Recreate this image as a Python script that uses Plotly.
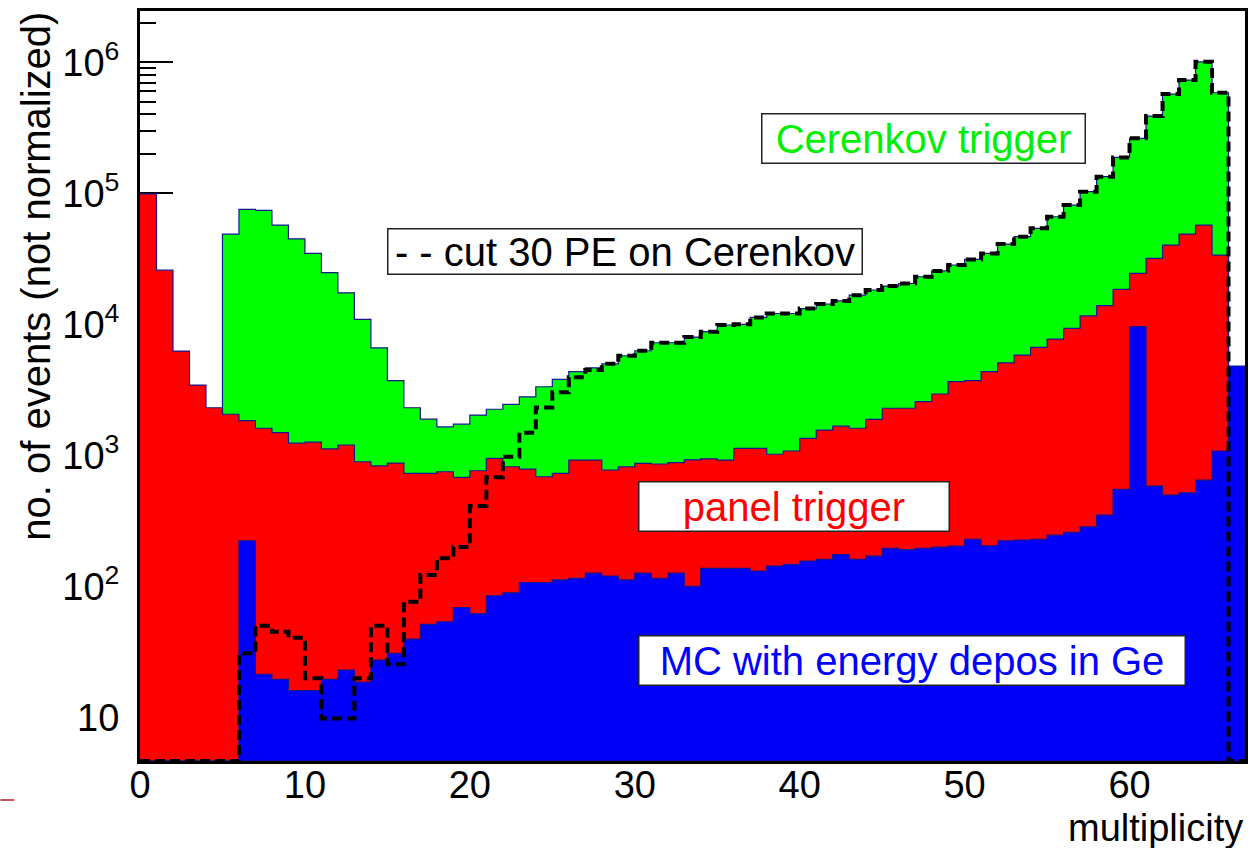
import numpy as np
import plotly.graph_objects as go

# ---- histogram contents, one entry per unit bin of multiplicity (0..66) ----
multiplicity_edges = list(range(0, 68))

cerenkov_trigger = [
    0, 0, 0, 0, 0,
    48900, 75500, 74200, 57300, 45000, 34800, 24800, 17400, 10900, 6620,
    3720, 2310, 1890, 1650, 1730, 2030, 2250, 2450, 2800, 3340,
    3800, 4350, 4660, 5000, 5760, 6290, 7240, 7240, 8000, 8790,
    9890, 10000, 11300, 12100, 12100, 13200, 14300, 15100, 16700, 18300,
    19600, 20500, 23100, 25600, 28400, 31300, 34800, 41000, 46700, 54100,
    66300, 81400, 103000, 134000, 188000, 263000, 389000, 573000, 733000, 1010000,
    586000, 0,
]

panel_trigger = [
    99000, 25900, 6250, 3440, 2310,
    2060, 1840, 1610, 1490, 1240, 1260, 1120, 1200, 894, 832,
    873, 729, 729, 750, 679, 763, 948, 819, 786, 687,
    729, 920, 920, 773, 819, 869, 859, 880, 925, 941,
    920, 1130, 1130, 1020, 1080, 1350, 1560, 1670, 1610, 1880,
    2290, 2290, 2570, 2940, 3650, 3720, 4350, 5090, 5830, 6670,
    7720, 9310, 11600, 13900, 18500, 24500, 31900, 40300, 48900, 57300,
    33800, 0,
]

mc_ge_deposit = [
    0, 0, 0, 0, 0,
    0, 223, 21.3, 19.5, 16.0, 16.0, 19.5, 23.0, 18.6, 27.4,
    30.8, 39.6, 51.3, 53.7, 69, 62, 84.8, 89.3, 107, 107,
    112, 115, 126, 120, 112, 126, 115, 126, 100, 137,
    137, 137, 131, 143, 147, 156, 161, 175, 161, 170,
    195, 191, 195, 199, 203, 229, 204, 223, 226, 229,
    246, 258, 285, 350, 550, 9600, 583, 498, 518, 647,
    1080, 4810,
]

cut_30pe = [
    0, 0, 0, 0, 0,
    0, 30.8, 50, 45, 40.5, 19.9, 9.8, 9.8, 19.9, 50,
    25.4, 76.2, 122, 164, 200, 410, 680, 975, 1490, 2320,
    3030, 3940, 4480, 5000, 5760, 6290, 7240, 7240, 8000, 8790,
    9890, 10000, 11300, 12100, 12100, 13200, 14300, 15100, 16700, 18300,
    19600, 20500, 23100, 25600, 28400, 31300, 34800, 41000, 46700, 54100,
    66300, 81400, 103000, 134000, 188000, 263000, 389000, 573000, 733000, 1010000,
    586000, 0,
]

x_tick_vals = [0, 10, 20, 30, 40, 50, 60]
y_tick_vals = [10, 100, 1e3, 1e4, 1e5, 1e6]
y_tick_text = ["10", "10<sup>2</sup>", "10<sup>3</sup>", "10<sup>4</sup>",
               "10<sup>5</sup>", "10<sup>6</sup>"]

# ---- axis setup ----
LOG_Y_MIN, LOG_Y_MAX = 0.667, 6.392
Y_FLOOR = 10 ** LOG_Y_MIN          # empty bins are drawn at the bottom of the frame
X_MIN, X_MAX = 0, 67

FONT = "Liberation Sans, Arial, Helvetica, sans-serif"
OUTLINE = "#16168f"


def step_xy(counts):
    y = [c if c > 0 else Y_FLOOR for c in counts]
    return list(multiplicity_edges), y + [y[-1]]


def filled_hist(counts, color):
    x, y = step_xy(counts)
    x = x + [multiplicity_edges[-1], multiplicity_edges[0]]
    y = y + [Y_FLOOR, Y_FLOOR]
    return go.Scatter(
        x=x, y=y, mode="lines", line=dict(shape="hv", color=OUTLINE, width=1.2),
        fill="toself", fillcolor=color, hoverinfo="skip", showlegend=False,
    )


fig = go.Figure()
fig.add_trace(filled_hist(cerenkov_trigger, "#00ff00"))
fig.add_trace(filled_hist(panel_trigger, "#ff0000"))
fig.add_trace(filled_hist(mc_ge_deposit, "#0000f8"))

cx, cy = step_xy(cut_30pe)
fig.add_trace(go.Scatter(
    x=cx, y=cy, mode="lines",
    line=dict(shape="hv", color="black", width=4, dash="10px,5px"),
    hoverinfo="skip", showlegend=False,
))

minor_vals = [m * 10 ** d for d in range(0, 7) for m in range(2, 10)
              if LOG_Y_MIN <= np.log10(m * 10 ** d) <= LOG_Y_MAX]

fig.update_layout(
    width=1253, height=848,
    margin=dict(l=140, r=5, t=11, b=87),
    paper_bgcolor="white", plot_bgcolor="white",
    font=dict(family=FONT, color="black"),
    xaxis=dict(
        range=[X_MIN, X_MAX], tickmode="array", tickvals=x_tick_vals,
        ticks="", showgrid=False, zeroline=False,
        showline=True, linecolor="black", linewidth=3, mirror=True,
        tickfont=dict(size=38, family=FONT), layer="below traces",
        ticklabelstandoff=-12,
    ),
    yaxis=dict(
        type="log", range=[LOG_Y_MIN, LOG_Y_MAX],
        tickmode="array", tickvals=y_tick_vals, ticktext=y_tick_text,
        ticks="inside", ticklen=33, tickwidth=1.5, tickcolor="black",
        minor=dict(tickmode="array", tickvals=minor_vals, ticks="inside",
                   ticklen=16, tickwidth=1.5, tickcolor="black", showgrid=False),
        showgrid=False, zeroline=False,
        showline=True, linecolor="black", linewidth=3, mirror=True,
        tickfont=dict(size=38, family=FONT), layer="below traces",
        ticklabelstandoff=10,
    ),
)


def px_to_paper(px, py):
    return (px - 140) / 1108, (761 - py) / 750


def label_box(text, color, cx_px, cy_px, w_px, h_px):
    xp, yp = px_to_paper(cx_px, cy_px)
    fig.add_annotation(
        text=text, x=xp, y=yp, xref="paper", yref="paper",
        xanchor="center", yanchor="middle", showarrow=False,
        font=dict(size=40, color=color, family=FONT),
        bgcolor="white", bordercolor="#222222", borderwidth=1.5, borderpad=0,
        width=w_px - 3, height=h_px - 3, align="center", valign="middle",
    )


label_box("Cerenkov trigger", "#00f000", 925.5, 138.5, 325, 51)
label_box("- - cut 30 PE on Cerenkov", "black", 626, 251.5, 476, 47)
label_box("panel trigger", "#ff0000", 796, 506.5, 312, 51)
label_box("MC with energy depos in Ge", "#0000ff", 914, 660.5, 548, 51)

# axis titles, aligned to the ends of the axes
fig.add_annotation(
    text="multiplicity", x=1.0, y=(761 - 828) / 750, xref="paper", yref="paper",
    xanchor="right", yanchor="middle", showarrow=False,
    font=dict(size=38, family=FONT, color="black"),
)
fig.add_annotation(
    text="no. of events (not normalized)", textangle=-90,
    x=(36 - 140) / 1108, y=(761 - 10) / 750, xref="paper", yref="paper",
    xanchor="center", yanchor="top", showarrow=False,
    font=dict(size=40, family=FONT, color="black"),
)

# small rule at the lower left of the page
x0, y0 = px_to_paper(0, 800)
x1, _ = px_to_paper(14, 800)
fig.add_shape(type="line", xref="paper", yref="paper", x0=x0, x1=x1, y0=y0, y1=y0,
              line=dict(color="#b02020", width=1.5))

fig.write_html("out.html")
